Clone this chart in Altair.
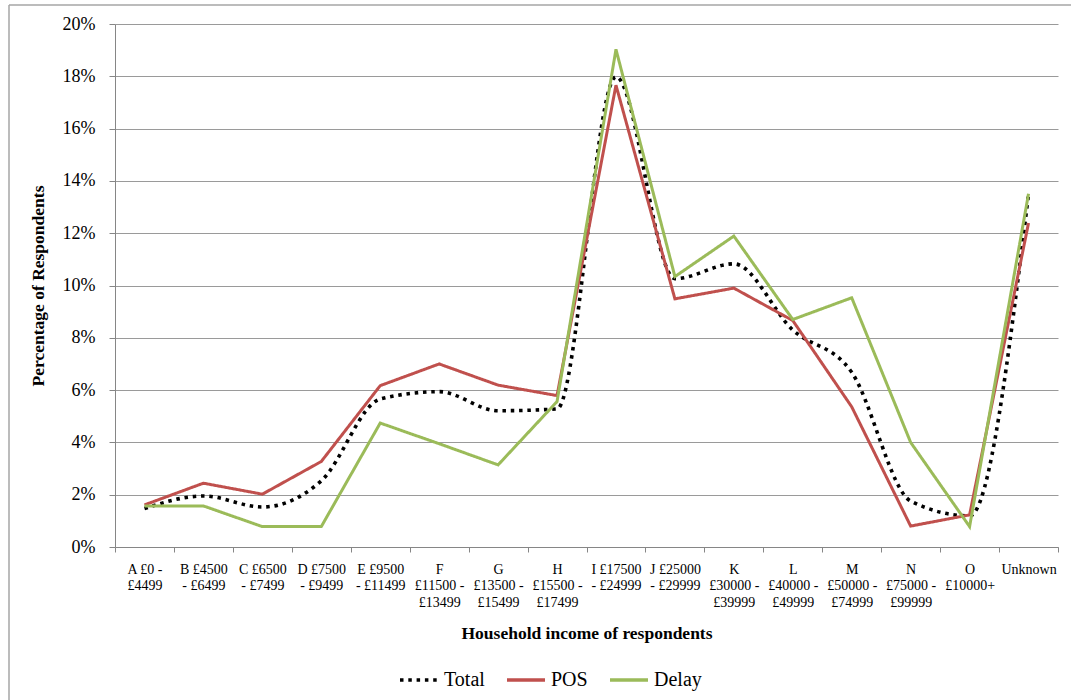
import altair as alt
import pandas as pd

# Income bands (line breaks marked with "|")
categories = [
    "A £0 -|£4499",
    "B  £4500|- £6499",
    "C  £6500|- £7499",
    "D  £7500|- £9499",
    "E  £9500|- £11499",
    "F|£11500 -|£13499",
    "G|£13500 -|£15499",
    "H|£15500 -|£17499",
    "I £17500|- £24999",
    "J  £25000|- £29999",
    "K|£30000 -|£39999",
    "L|£40000 -|£49999",
    "M|£50000 -|£74999",
    "N|£75000 -|£99999",
    "O|£10000+",
    "Unknown",
]

# Share of respondents in each band (%)
total = [1.47, 1.95, 1.53, 2.53, 5.66, 5.94, 5.21, 5.28, 17.98, 10.26, 10.83, 8.3, 6.68, 1.76, 1.19, 13.5]
pos = [1.61, 2.44, 2.02, 3.27, 6.17, 7.0, 6.19, 5.79, 17.66, 9.49, 9.9, 8.66, 5.36, 0.80, 1.23, 12.39]
delay = [1.57, 1.57, 0.78, 0.78, 4.74, 3.95, 3.14, 5.56, 19.03, 10.34, 11.89, 8.7, 9.53, 4.0, 0.78, 13.51]

series_names = ["Total", "POS", "Delay"]
series_colors = ["#000000", "#C0504D", "#9BBB59"]
series_dash = [[3.5, 4.8], [1, 0], [1, 0]]

rows = []
for name, vals in zip(series_names, [total, pos, delay]):
    for cat, v in zip(categories, vals):
        rows.append({"band": cat, "series": name, "share": v / 100})
df = pd.DataFrame(rows)

FONT = "Liberation Serif"
W, H = 943, 523

x_enc = alt.X(
    "band:N",
    sort=categories,
    bandPosition=0.5,
    scale=alt.Scale(type="band", paddingInner=0, paddingOuter=0),
    axis=alt.Axis(
        title="Household income of respondents",
        titleFont=FONT,
        titleFontSize=17.5,
        titleFontWeight="bold",
        titleColor="#000000",
        titleX=W / 2,
        titleY=86,
        titleBaseline="middle",
        labelExpr="isValid(datum.value) ? split(datum.value, '|') : ''",
        labelFont=FONT,
        labelFontSize=14,
        labelColor="#000000",
        labelLineHeight=16.7,
        labelAngle=0,
        labelPadding=17,
        labelBaseline="middle",
        tickBand="extent",
        tickSize=5,
        tickColor="#868686",
        domainColor="#868686",
        grid=False,
    ),
)

y_enc = alt.Y(
    "share:Q",
    scale=alt.Scale(domain=[0, 0.2], nice=False, zero=True),
    axis=alt.Axis(
        title="Percentage of Respondents",
        titleFont=FONT,
        titleFontSize=17.5,
        titleFontWeight="bold",
        titleColor="#000000",
        titleX=-77,
        titleY=H / 2,
        titleAngle=270,
        titleBaseline="middle",
        values=[i / 100 for i in range(0, 21, 2)],
        format=".0%",
        labelFont=FONT,
        labelFontSize=18,
        labelColor="#000000",
        labelPadding=14,
        tickSize=6,
        tickColor="#868686",
        domainColor="#868686",
        gridColor="#9a9a9a",
        gridWidth=1,
    ),
)

legend_style = dict(
    title=None,
    orient="none",
    direction="horizontal",
    legendX=283,
    legendY=635,
    symbolType="stroke",
    symbolSize=1444,
    symbolStrokeWidth=3.5,
    labelFont=FONT,
    labelFontSize=20,
    labelColor="#000000",
    labelOffset=4,
    columnPadding=15,
    padding=0,
)

color_enc = alt.Color(
    "series:N",
    scale=alt.Scale(domain=series_names, range=series_colors),
    legend=alt.Legend(**legend_style),
)

dash_enc = alt.StrokeDash(
    "series:N",
    scale=alt.Scale(domain=series_names, range=series_dash),
    legend=alt.Legend(**legend_style),
)

base = alt.Chart(df).encode(x=x_enc, y=y_enc, color=color_enc, strokeDash=dash_enc)

total_line = base.transform_filter(alt.datum.series == "Total").mark_line(
    strokeWidth=3.6, interpolate="monotone"
)
pos_line = base.transform_filter(alt.datum.series == "POS").mark_line(strokeWidth=3)
delay_line = base.transform_filter(alt.datum.series == "Delay").mark_line(strokeWidth=3)

# Frame lines around the chart area
frame = alt.Chart(alt.Data(values=[{}]))
frame_top = frame.mark_rule(color="#a6a6a6", strokeWidth=1.5).encode(
    x=alt.value(-106), x2=alt.value(960), y=alt.value(-19)
)
frame_left = frame.mark_rule(color="#a6a6a6", strokeWidth=1.5).encode(
    x=alt.value(-106), y=alt.value(-19), y2=alt.value(680)
)

chart = (
    alt.layer(frame_top, frame_left, total_line, pos_line, delay_line)
    .properties(
        width=W,
        height=H,
        autosize=alt.AutoSizeParams(type="none"),
        padding={"left": 115, "top": 24, "right": 13, "bottom": 153},
        background="#ffffff",
    )
    .configure_view(stroke=None)
)

chart.save("out.html", embed_options={"renderer": "svg", "actions": False})
